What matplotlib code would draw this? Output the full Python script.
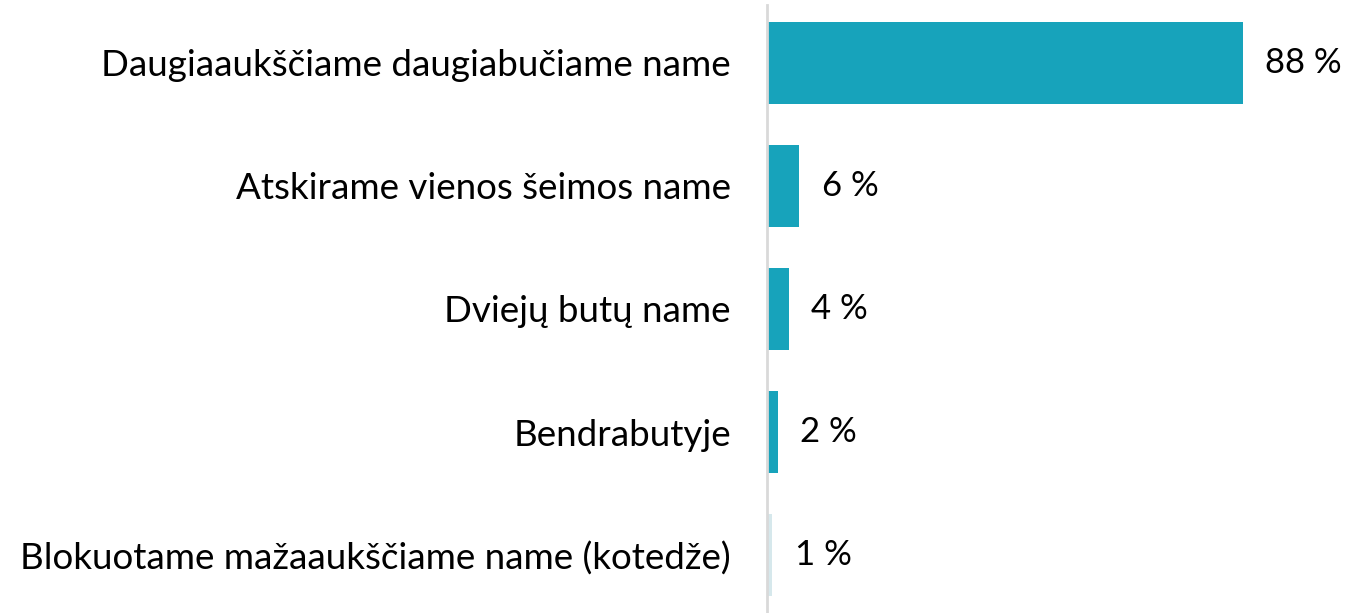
import matplotlib
matplotlib.use("Agg")
import matplotlib.pyplot as plt

categories = [
    "Daugiaaukščiame daugiabučiame name",
    "Atskirame vienos šeimos name",
    "Dviejų butų name",
    "Bendrabutyje",
    "Blokuotame mažaaukščiame name (kotedže)",
]
values = [88, 6, 4, 2, 1]
value_labels = ["88 %", "6 %", "4 %", "2 %", "1 %"]
bar_colors = ["#17a3bb", "#17a3bb", "#17a3bb", "#17a3bb", "#d6e8ec"]

plt.rcParams["font.family"] = ["Lato", "DejaVu Sans"]

fig = plt.figure(figsize=(13.71, 6.13), dpi=100)
ax = fig.add_axes([767 / 1371, 0.0, 1 - 767 / 1371, 1.0])

ypos = list(range(len(categories)))
ax.barh(ypos, values, height=0.667, color=bar_colors)

for y, v, lab in zip(ypos, values, value_labels):
    ax.annotate(lab, (v, y), xytext=(16, 0), textcoords="offset points",
                va="center", ha="left", fontsize=25, color="black")

ax.set_xlim(0, 111.6)
ax.set_ylim(4.47, -0.51)
ax.set_yticks(ypos)
ax.set_yticklabels(categories, fontsize=26.5)
ax.tick_params(axis="y", length=0, pad=26)
ax.set_xticks([])

for side in ["top", "right", "bottom"]:
    ax.spines[side].set_visible(False)
ax.spines["left"].set_color("#d9d9d9")
ax.spines["left"].set_linewidth(2)
ax.spines["left"].set_bounds(-0.47, 4.47)

fig.savefig("out.png", dpi=100)
